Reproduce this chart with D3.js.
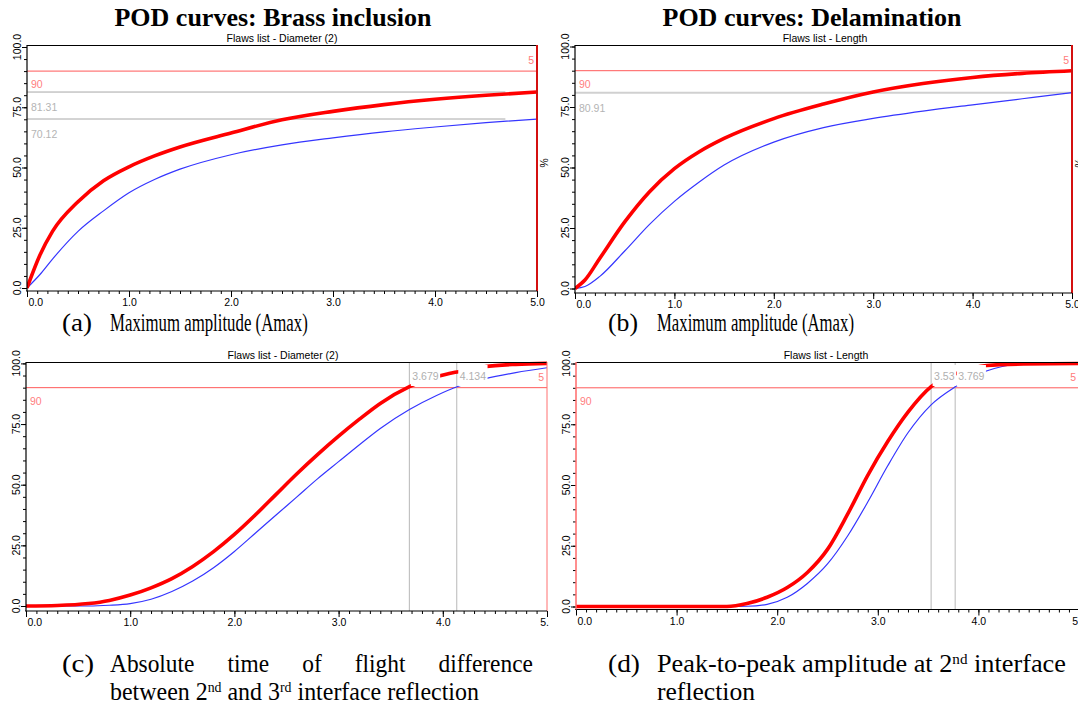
<!DOCTYPE html>
<html>
<head>
<meta charset="utf-8">
<script src="https://cdn.jsdelivr.net/npm/d3@7"></script>
<style>
  body { margin: 0; background: #fff; }
  svg { display: block; }
  .tick-label { font-family: "Liberation Sans", Arial, sans-serif; font-size: 10.5px; fill: #000; }
  .small { font-family: "Liberation Sans", Arial, sans-serif; font-size: 10.5px; }
  .title { font-family: "Liberation Serif", "Times New Roman", serif; font-weight: bold; font-size: 26px; }
  .caption { font-family: "Liberation Serif", "Times New Roman", serif; font-size: 26px; }
</style>
</head>
<body>
<svg id="chart" width="1078" height="708"></svg>
<script>
// axis ticks
const xTicks = [0, 1, 2, 3, 4, 5];
const yTicks = [0, 25, 50, 75, 100];
const podLevel = 90;

// (a) Brass inclusion, Amax
const xsA = [0, 0.125, 0.25, 0.5, 0.75, 1.0, 1.25, 1.5, 2.0, 2.5, 3.0, 3.5, 4.0, 4.5, 5.0];
const redA = [0, 13.5, 23.5, 35.8, 44.5, 50.3, 54.8, 58.5, 64.3, 69.8, 73.3, 76.1, 78.3, 80.0, 81.31];
const blueA = [0, 5.5, 12, 23.5, 32, 39.5, 45, 49.3, 55.3, 59.4, 62.3, 64.8, 66.8, 68.6, 70.12];
const refA = [81.31, 70.12];

// (b) Delamination, Amax
const xsB = [0, 0.1, 0.25, 0.5, 0.75, 1.0, 1.25, 1.5, 2.0, 2.5, 3.0, 3.5, 4.0, 4.5, 5.0];
const redB = [0, 3.5, 12.5, 27.5, 40, 49.5, 56.5, 62, 70.2, 76.2, 81.2, 84.7, 87.2, 88.9, 90];
const blueB = [0, 0.8, 5, 15.5, 26.5, 36, 44, 51, 60.5, 66.5, 70.3, 73.3, 75.9, 78.4, 80.91];
const refB = [80.91];

// (c) Brass inclusion, time of flight difference
const xsC = [0, 0.3, 0.6, 0.8, 1.0, 1.2, 1.4, 1.6, 1.8, 2.0, 2.2, 2.4, 2.6, 2.8, 3.0, 3.2, 3.4, 3.68, 3.94, 4.15, 4.4, 4.7, 5.0];
const redC = [0, 0.2, 1.0, 2.3, 4.5, 7.5, 11.3, 16.3, 22.4, 29.5, 37.5, 46, 54.5, 62.5, 70, 77, 83.5, 90.4, 94.5, 96.6, 98.6, 99.6, 100];
const blueC = [0, 0, 0, 0.3, 1.0, 2.8, 6.0, 10.3, 15.8, 22.5, 30, 37.5, 45, 52.5, 59.5, 66.5, 73.2, 81, 86.8, 90.6, 93.6, 96.2, 98.2];
const vRefC = [3.679, 4.134];

// (d) Delamination, peak-to-peak amplitude
const xsD = [0, 0.5, 1.0, 1.5, 1.7, 1.9, 2.1, 2.3, 2.5, 2.7, 2.9, 3.1, 3.3, 3.53, 3.77, 4.08, 4.45, 5.0];
const redD = [0, 0, 0, 0, 1.2, 3.8, 7.8, 14, 23.5, 38, 54, 68, 80, 90.5, 95.7, 99.2, 99.8, 100];
const blueD = [0, 0, 0, 0, 0.1, 0.9, 3.8, 9.5, 17.5, 29, 43, 58, 71.5, 83, 90.4, 96.9, 99.8, 100];
const vRefD = [3.53, 3.769];

const svg = d3.select('#chart');
const defs = svg.append('defs');

const panels = [
  { id: 'a', x0: 27, x5: 537, y0: 288, y100: 47, top: 45, bottom: 291, cut: 560,
    subtitle: 'Flaws list - Diameter (2)', subX: 282, subY: 42,
    xs: xsA, red: redA, blue: blueA, hRefs: refA, hRefEnd: 4.69, hRefWidth: 1, vRefs: [], redEdge: true, pct: true },
  { id: 'b', x0: 575, x5: 1072, y0: 288.5, y100: 46.5, top: 45, bottom: 293, cut: 1078,
    subtitle: 'Flaws list - Length', subX: 825, subY: 42,
    xs: xsB, red: redB, blue: blueB, hRefs: refB, hRefEnd: 5, hRefWidth: 2, vRefs: [], redEdge: true, pct: true },
  { id: 'c', x0: 26, x5: 547, y0: 606, y100: 363.4, top: 362, bottom: 611, cut: 549,
    subtitle: 'Flaws list - Diameter (2)', subX: 283, subY: 359,
    xs: xsC, red: redC, blue: blueC, hRefs: [], vRefs: vRefC, redEdge: false, pct: false },
  { id: 'd', x0: 576, x5: 1079, y0: 606.5, y100: 363.5, top: 362, bottom: 609.5, cut: 1078,
    subtitle: 'Flaws list - Length', subX: 826, subY: 359,
    xs: xsD, red: redD, blue: blueD, hRefs: [], vRefs: vRefD, redEdge: false, redLeft: true, pct: false }
];

panels.forEach(drawPanel);

function drawPanel(p) {
  const x = d3.scaleLinear().domain([0, 5]).range([p.x0, p.x5]);
  const y = d3.scaleLinear().domain([0, 100]).range([p.y0, p.y100]);

  defs.append('clipPath').attr('id', 'cut-' + p.id).append('rect')
    .attr('x', 0).attr('y', 0).attr('width', p.cut).attr('height', 708);
  defs.append('clipPath').attr('id', 'plot-' + p.id).append('rect')
    .attr('x', p.x0).attr('y', p.top - 1).attr('width', p.x5 - p.x0).attr('height', p.bottom - p.top + 1);

  const g = svg.append('g').attr('clip-path', `url(#cut-${p.id})`);

  g.append('text').attr('class', 'small')
    .attr('x', p.subX).attr('y', p.subY).attr('text-anchor', 'middle')
    .text(p.subtitle);

  const plot = g.append('g').attr('clip-path', `url(#plot-${p.id})`);

  // POD level line
  plot.append('line')
    .attr('x1', p.x0).attr('x2', p.x5)
    .attr('y1', y(podLevel)).attr('y2', y(podLevel))
    .attr('stroke', '#ff5a5a').attr('stroke-width', 1);

  // horizontal reference lines (POD at max size)
  p.hRefs.forEach((v) => {
    plot.append('line')
      .attr('x1', p.x0).attr('x2', x(p.hRefEnd))
      .attr('y1', y(v)).attr('y2', y(v))
      .attr('stroke', p.hRefWidth > 1 ? '#d0d0d0' : '#a8a8a8')
      .attr('stroke-width', p.hRefWidth);
  });

  // vertical reference lines (size at 90%)
  p.vRefs.forEach((v) => {
    plot.append('line')
      .attr('x1', x(v)).attr('x2', x(v))
      .attr('y1', p.top).attr('y2', p.bottom)
      .attr('stroke', '#b8b8b8').attr('stroke-width', 1);
  });

  const line = d3.line()
    .x((d) => x(d[0]))
    .y((d) => y(d[1]))
    .curve(d3.curveMonotoneX);

  plot.append('path')
    .datum(p.xs.map((v, i) => [v, p.blue[i]]))
    .attr('fill', 'none').attr('stroke', '#3535ff').attr('stroke-width', 1.2)
    .attr('d', line);

  plot.append('path')
    .datum(p.xs.map((v, i) => [v, p.red[i]]))
    .attr('fill', 'none').attr('stroke', '#ff0000').attr('stroke-width', 3.6)
    .attr('stroke-linejoin', 'round')
    .attr('d', line);

  // labels with white boxes (they cover the curves)
  const labels = g.append('g').attr('class', 'small');
  p.vRefs.forEach((v) => {
    const t = labels.append('text')
      .attr('x', x(v) + 3).attr('y', p.top + 18)
      .attr('fill', '#b0b0b0')
      .text(String(v));
    const w = t.node().getComputedTextLength();
    labels.insert('rect', 'text')
      .attr('x', x(v) + 1.5).attr('y', p.top + 3)
      .attr('width', w + 3).attr('height', 21)
      .attr('fill', '#fff');
  });

  const five = labels.append('text')
    .attr('x', x(5) - 3).attr('y', p.top + 19)
    .attr('text-anchor', 'end').attr('fill', '#ff7a7a')
    .text('5');
  const fw = five.node().getComputedTextLength();
  labels.insert('rect', 'text')
    .attr('x', x(5) - 5 - fw).attr('y', p.top + 8)
    .attr('width', fw + 4).attr('height', 14)
    .attr('fill', '#fff');

  labels.append('text')
    .attr('x', p.x0 + 4).attr('y', y(podLevel) + 17)
    .attr('fill', '#ff7f7f')
    .text(String(podLevel));

  p.hRefs.forEach((v) => {
    labels.append('text')
      .attr('x', p.x0 + 4).attr('y', y(v) + 19)
      .attr('fill', '#b4b4b4')
      .text(String(v));
  });

  // frame: top border
  g.append('line')
    .attr('x1', p.x0).attr('x2', p.x5)
    .attr('y1', p.top + 0.5).attr('y2', p.top + 0.5)
    .attr('stroke', '#000').attr('stroke-width', 1.2);

  // right edge at x = 5
  g.append('line')
    .attr('x1', x(5)).attr('x2', x(5))
    .attr('y1', p.top).attr('y2', p.bottom)
    .attr('stroke', p.redEdge ? '#d41010' : '#ff7070')
    .attr('stroke-width', p.redEdge ? 2 : 1);

  if (p.pct) {
    g.append('text').attr('class', 'small')
      .attr('transform', `translate(${x(5) + 3},${p.top + 118}) rotate(90)`)
      .attr('text-anchor', 'middle')
      .attr('font-size', 9)
      .text('%');
  }

  // x axis
  const xAxisMinor = d3.axisBottom(x)
    .tickValues(d3.range(0, 51).map((i) => i / 10))
    .tickSize(3).tickSizeOuter(0).tickFormat('');
  g.append('g').attr('transform', `translate(0,${p.bottom})`).call(xAxisMinor)
    .call((s) => s.select('.domain').remove());

  const xAxis = d3.axisBottom(x)
    .tickValues(xTicks).tickSize(6).tickSizeOuter(0)
    .tickFormat(d3.format('.1f'));
  const xg = g.append('g').attr('transform', `translate(0,${p.bottom})`).call(xAxis);
  xg.select('.domain').remove();
  xg.selectAll('text').attr('class', 'tick-label').attr('y', 8).attr('dy', '0.71em')
    .attr('font-family', null).attr('font-size', null);
  xg.selectAll('.tick').filter((d) => d === 0).select('text')
    .attr('text-anchor', 'start').attr('x', 1);

  g.append('line')
    .attr('x1', p.x0 - 1).attr('x2', p.x5)
    .attr('y1', p.bottom).attr('y2', p.bottom)
    .attr('stroke', '#000').attr('stroke-width', 1.2);

  // y axis
  const yAxisMinor = d3.axisLeft(y)
    .tickValues(d3.range(0, 21).map((i) => i * 5))
    .tickSize(3).tickSizeOuter(0).tickFormat('');
  g.append('g').attr('transform', `translate(${p.x0},0)`).call(yAxisMinor)
    .call((s) => s.select('.domain').remove());

  const yAxis = d3.axisLeft(y).tickValues(yTicks).tickSize(5).tickSizeOuter(0).tickFormat('');
  const yg = g.append('g').attr('transform', `translate(${p.x0},0)`).call(yAxis);
  yg.select('.domain').remove();

  yTicks.forEach((v) => {
    g.append('text').attr('class', 'tick-label')
      .attr('transform', `translate(${p.x0 - 6},${y(v)}) rotate(-90)`)
      .attr('text-anchor', 'middle')
      .text(d3.format('.1f')(v));
  });

  g.append('line')
    .attr('x1', p.x0).attr('x2', p.x0)
    .attr('y1', p.top).attr('y2', p.bottom)
    .attr('stroke', p.redLeft ? '#ff6a6a' : '#000').attr('stroke-width', p.redLeft ? 1.5 : 1.2);
}

// titles
svg.append('text').attr('class', 'title').attr('x', 273).attr('y', 26)
  .attr('text-anchor', 'middle').text('POD curves: Brass inclusion');
svg.append('text').attr('class', 'title').attr('x', 812).attr('y', 26)
  .attr('text-anchor', 'middle').text('POD curves: Delamination');

// captions, fitted to the widths measured on the reference
function fitted(x, y, width, parts, size) {
  const t = svg.append('text').attr('class', 'caption');
  if (size) t.attr('font-size', size);
  parts.forEach((part) => {
    if (typeof part === 'object') {
      t.append('tspan').attr('font-size', 15).attr('baseline-shift', 'super').text(part.sup);
    } else {
      t.append('tspan').text(part);
    }
  });
  const w = t.node().getComputedTextLength();
  t.attr('transform', `translate(${x},${y}) scale(${width / w},1)`);
  return t;
}

function justified(x, y, width, words, squeeze) {
  const nodes = words.map((w) => svg.append('text').attr('class', 'caption').text(w));
  const widths = nodes.map((n) => n.node().getComputedTextLength() * squeeze);
  const gap = (width - d3.sum(widths)) / (words.length - 1);
  let cx = x;
  nodes.forEach((n, i) => {
    n.attr('transform', `translate(${cx},${y}) scale(${squeeze},1)`);
    cx += widths[i] + gap;
  });
}

fitted(62, 331, 30, ['(a)'], 22);
fitted(110, 331, 198, ['Maximum amplitude (Amax)'], 22);
fitted(608, 331, 30, ['(b)'], 22);
fitted(657, 331, 197, ['Maximum amplitude (Amax)'], 22);

fitted(62, 672, 32, ['(c)']);
justified(110, 672, 423, ['Absolute', 'time', 'of', 'flight', 'difference'], 0.9);
fitted(110, 700, 369, ['between 2', { sup: 'nd' }, ' and 3', { sup: 'rd' }, ' interface reflection']);

fitted(608, 672, 32, ['(d)']);
fitted(657, 672, 409, ['Peak-to-peak amplitude at 2', { sup: 'nd' }, ' interface']);
fitted(657, 700, 98, ['reflection']);
</script>
</body>
</html>
